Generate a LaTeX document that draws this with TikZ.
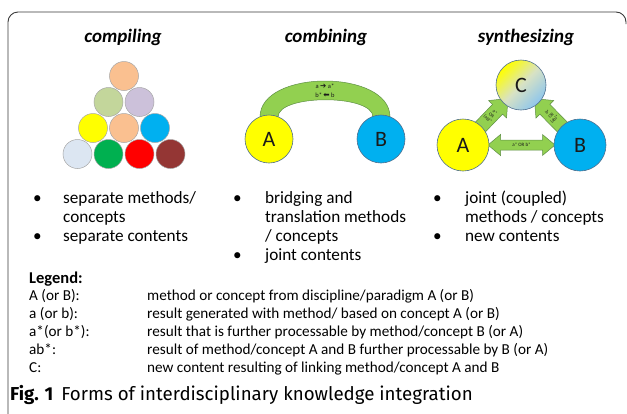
\documentclass[tikz,border=0pt]{standalone}
\usepackage{fontspec}
\setmainfont{Carlito}
\newfontfamily\capfont{Fira Sans}
\newfontfamily\symfont{DejaVu Sans}
\usetikzlibrary{calc}
\definecolor{cpeach}{HTML}{FAC090}
\definecolor{clgreen}{HTML}{C3D69B}
\definecolor{clav}{HTML}{CCC1DA}
\definecolor{cyel}{HTML}{FFFF00}
\definecolor{ccyan}{HTML}{00B0F0}
\definecolor{cpale}{HTML}{DCE6F2}
\definecolor{cgreen}{HTML}{00B050}
\definecolor{cred}{HTML}{FF0000}
\definecolor{cdred}{HTML}{943634}
\definecolor{cband}{HTML}{92D050}
\definecolor{cbandline}{HTML}{5E8F45}
\definecolor{cdisc}{HTML}{4F6F8F}
\definecolor{cball}{HTML}{A6A6A6}
\definecolor{ctext}{HTML}{1A1A1A}
\definecolor{cframe}{HTML}{3A3A3A}
\definecolor{cCblue}{HTML}{8EC6EC}
\definecolor{cCmid}{HTML}{D8E2C4}
\begin{document}
\begin{tikzpicture}[x=1pt,y=-1pt,
  ball/.style={circle, draw=cball, line width=0.5pt, minimum size=29pt, inner sep=0pt},
  disc/.style={circle, draw=cdisc, line width=0.6pt, inner sep=0pt, text=ctext,
    font=\fontsize{22}{22}\selectfont},
  title/.style={anchor=base, font=\fontsize{19}{20}\selectfont\bfseries\itshape, text=black},
  bandshape/.style={fill=cband, draw=cbandline, line width=0.5pt},
  tiny/.style={inner sep=0pt, text=ctext, align=center},
  bul/.style={anchor=base west, inner sep=0pt, text=black, font=\fontsize{17.2}{19}\selectfont},
  leg/.style={anchor=base west, inner sep=0pt, text=black, font=\fontsize{15.2}{17}\selectfont},
]
\useasboundingbox (0,0) rectangle (627,413);
% frame
\draw[cframe, line width=0.9pt, rounded corners=10pt] (8,414) -- (8,12) -- (626,12) -- (626,24);

% titles
\node[title] (t1) at (123,42) {compiling};
\node[title] (t2) at (326,42) {combining};
\node[title] (t3) at (526,42) {synthesizing};

% compiling balls
\node[ball, fill=cpeach]  (b1) at (124,76) {};
\node[ball, fill=clgreen] (b2) at (108.5,102) {};
\node[ball, fill=clav]    (b3) at (139.5,102) {};
\node[ball, fill=cyel]    (b4) at (93,128) {};
\node[ball, fill=cpeach]  (b5) at (124,128) {};
\node[ball, fill=ccyan]   (b6) at (155,128) {};
\node[ball, fill=cpale]   (b7) at (77.5,154) {};
\node[ball, fill=cgreen]  (b8) at (108.5,154) {};
\node[ball, fill=cred]    (b9) at (139.5,154) {};
\node[ball, fill=cdred]   (b10) at (170.5,154) {};

% combining
\path[bandshape] (260,128) -- (260,117) .. controls (260,69) and (390,69) .. (390,117) -- (390,128)
  -- (373,128) -- (373,117) .. controls (373,94) and (278,94) .. (278,117) -- (278,128) -- cycle;
\node[tiny, font=\fontsize{6.5}{7}\selectfont] (ar1) at (325,86) {a {\symfont\fontsize{7.5}{7}\selectfont ➔} a*};
\node[tiny, font=\fontsize{6.5}{7}\selectfont] (ar2) at (325,95) {b* {\symfont\fontsize{7.5}{7}\selectfont ⬅} b};
\node[disc, fill=cyel, minimum size=48pt] (cA) at (269,139) {A};
\node[disc, fill=ccyan, minimum size=48pt] (cB) at (381,139) {B};

% synthesizing
\coordinate (pA) at (463,145);
\coordinate (pB) at (580,145);
\coordinate (pC) at (521,85);
\begin{scope}[shift={($(pA)!0.5!(pC)$)}, rotate=46]
  \path[bandshape] (-23,-7) -- (8,-7) -- (8,-12.5) -- (23,0) -- (8,12.5) -- (8,7) -- (-23,7) -- cycle;
  \node[tiny, rotate=-46, font=\fontsize{4.6}{5}\selectfont] (l1) at (-1,0) {a*\\OR\\(ab)*};
\end{scope}
\begin{scope}[shift={($(pB)!0.5!(pC)$)}, rotate=134.5]
  \path[bandshape] (-23,-7) -- (8,-7) -- (8,-12.5) -- (23,0) -- (8,12.5) -- (8,7) -- (-23,7) -- cycle;
  \node[tiny, rotate=44.5, font=\fontsize{4.6}{5}\selectfont] (l2) at (-1,0) {b*\\OR\\(ab)*};
\end{scope}
\begin{scope}[shift={($(pA)!0.5!(pB)$)}]
  \path[bandshape] (-33.5,0) -- (-21,-10.5) -- (-21,-5) -- (21,-5) -- (21,-10.5) -- (33.5,0)
    -- (21,10.5) -- (21,5) -- (-21,5) -- (-21,10.5) -- cycle;
  \node[tiny, font=\fontsize{5}{5.6}\selectfont] (l3) at (0,0) {a* OR b*};
\end{scope}
\node[disc, minimum size=50pt, top color=cyel, bottom color=cCblue, middle color=cCmid, shading angle=45] (sC) at (pC) {C};
\node[disc, fill=cyel, minimum size=52pt] (sA) at (pA) {A};
\node[disc, fill=ccyan, minimum size=52pt] (sB) at (pB) {B};

% bullet lists
\node[bul] (u1) at (33,203) {•};
\node[bul] (v1) at (63,203) {separate methods/};
\node[bul] (v2) at (63,222) {concepts};
\node[bul] (u2) at (33,241) {•};
\node[bul] (v3) at (63,241) {separate contents};

\node[bul] (u3) at (233,203) {•};
\node[bul] (w1) at (265,203) {bridging and};
\node[bul] (w2) at (265,222) {translation methods};
\node[bul] (w3) at (265,241) {/ concepts};
\node[bul] (u4) at (233,260) {•};
\node[bul] (w4) at (265,260) {joint contents};

\node[bul] (u5) at (433,203) {•};
\node[bul] (x1) at (465,203) {joint (coupled)};
\node[bul] (x2) at (465,222) {methods / concepts};
\node[bul] (u6) at (433,241) {•};
\node[bul] (x3) at (465,241) {new contents};

% legend
\node[leg, font=\fontsize{16.5}{18}\selectfont\bfseries] (lg) at (29,283) {Legend:};
\node[leg] (k1) at (29,300) {A (or B):};
\node[leg] (d1) at (147,300) {method or concept from discipline/paradigm A (or B)};
\node[leg] (k2) at (29,318) {a (or b):};
\node[leg] (d2) at (147,318) {result generated with method/ based on concept A (or B)};
\node[leg] (k3) at (29,336) {a*(or b*):};
\node[leg] (d3) at (147,336) {result that is further processable by method/concept B (or A)};
\node[leg] (k4) at (29,354) {ab*:};
\node[leg] (d4) at (147,354) {result of method/concept A and B further processable by B (or A)};
\node[leg] (k5) at (29,372) {C:};
\node[leg] (d5) at (147,372) {new content resulting of linking method/concept A and B};

% caption
\node[anchor=base west, inner sep=0pt, font=\capfont\fontsize{18.7}{22}\selectfont] (cap) at (10,400)
  {\textbf{Fig. 1}\hspace{8pt}Forms of interdisciplinary knowledge integration};
\end{tikzpicture}
\end{document}
